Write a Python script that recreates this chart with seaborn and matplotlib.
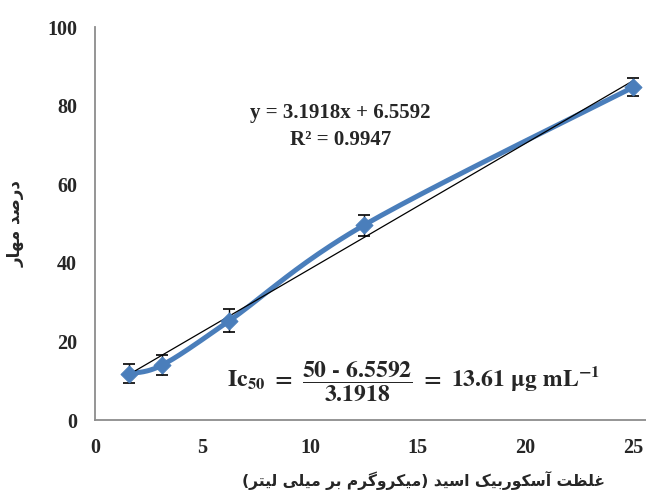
import numpy as np
import pandas as pd
import matplotlib
matplotlib.use('Agg')
import matplotlib.pyplot as plt
import seaborn as sns

# data
conc = [1.5625, 3.125, 6.25, 12.5, 25]
inhibition = [11.8, 14.0, 25.3, 49.6, 84.7]
err = [2.4, 2.5, 2.9, 2.7, 2.3]
slope = 3.1918
intercept = 6.5592
r2 = 0.9947
xticks = [0, 5, 10, 15, 20, 25]
yticks = [0, 20, 40, 60, 80, 100]

x_title = 'غلظت آسکوربیک اسید (میکروگرم بر میلی لیتر)'
y_title = 'درصد مهار'

# arabic presentation forms: isolated, final, initial, medial
FORMS = {
    'ا': ('\uFE8D', '\uFE8E', None, None),
    'آ': ('\uFE81', '\uFE82', None, None),
    'د': ('\uFEA9', '\uFEAA', None, None),
    'ر': ('\uFEAD', '\uFEAE', None, None),
    'و': ('\uFEED', '\uFEEE', None, None),
    'ص': ('\uFEB9', '\uFEBA', '\uFEBB', '\uFEBC'),
    'م': ('\uFEE1', '\uFEE2', '\uFEE3', '\uFEE4'),
    'ه': ('\uFEE9', '\uFEEA', '\uFEEB', '\uFEEC'),
    'غ': ('\uFECD', '\uFECE', '\uFECF', '\uFED0'),
    'ل': ('\uFEDD', '\uFEDE', '\uFEDF', '\uFEE0'),
    'ظ': ('\uFEC5', '\uFEC6', '\uFEC7', '\uFEC8'),
    'ت': ('\uFE95', '\uFE96', '\uFE97', '\uFE98'),
    'س': ('\uFEB1', '\uFEB2', '\uFEB3', '\uFEB4'),
    'ک': ('\uFB8E', '\uFB8F', '\uFB90', '\uFB91'),
    'ب': ('\uFE8F', '\uFE90', '\uFE91', '\uFE92'),
    'ی': ('\uFBFC', '\uFBFD', '\uFBFE', '\uFBFF'),
    'گ': ('\uFB92', '\uFB93', '\uFB94', '\uFB95'),
}


def shape(text):
    out = []
    for i, ch in enumerate(text):
        if ch not in FORMS:
            out.append(ch)
            continue
        prev = text[i - 1] if i > 0 else ''
        nxt = text[i + 1] if i + 1 < len(text) else ''
        join_prev = prev in FORMS and FORMS[prev][2] is not None
        join_next = nxt in FORMS and FORMS[ch][2] is not None
        iso, fin, ini, med = FORMS[ch]
        if join_prev and join_next:
            out.append(med)
        elif join_prev:
            out.append(fin)
        elif join_next:
            out.append(ini)
        else:
            out.append(iso)
    vis = ''.join(out)[::-1]
    return vis.translate(str.maketrans('()', ')('))


def smooth(xs, ys, n=40):
    # catmull-rom through the points, like excel's smoothed line
    xs = np.asarray(xs, float)
    ys = np.asarray(ys, float)
    px = np.concatenate([[xs[0]], xs, [xs[-1]]])
    py = np.concatenate([[ys[0]], ys, [ys[-1]]])
    cx, cy = [], []
    t = np.linspace(0, 1, n)
    for i in range(1, len(px) - 2):
        b0 = np.array([px[i], py[i]])
        b3 = np.array([px[i + 1], py[i + 1]])
        b1 = b0 + (np.array([px[i + 1], py[i + 1]]) - np.array([px[i - 1], py[i - 1]])) / 6
        b2 = b3 - (np.array([px[i + 2], py[i + 2]]) - b0) / 6
        pts = ((1 - t) ** 3)[:, None] * b0 + (3 * (1 - t) ** 2 * t)[:, None] * b1 \
            + (3 * (1 - t) * t ** 2)[:, None] * b2 + (t ** 3)[:, None] * b3
        cx.extend(pts[:, 0])
        cy.extend(pts[:, 1])
    return np.array(cx), np.array(cy)


sns.set_style('white')
plt.rcParams['font.family'] = ['Liberation Serif', 'DejaVu Sans']
plt.rcParams['font.weight'] = 'bold'
plt.rcParams['mathtext.fontset'] = 'stix'

df = pd.DataFrame({'conc': conc, 'inhibition': inhibition, 'err': err})
sx, sy = smooth(conc, inhibition)
curve = pd.DataFrame({'x': sx, 'y': sy})
xfit = np.array([conc[0], conc[-1]])
fit = pd.DataFrame({'x': xfit, 'y': slope * xfit + intercept})

fig = plt.figure(figsize=(6.46, 4.93), dpi=100)
ax = fig.add_axes([0.147, 0.148, 0.853, 0.797])

blue = '#4a7ebb'
sns.lineplot(data=curve, x='x', y='y', sort=False, color=blue, lw=3.6, ax=ax, zorder=2)
sns.lineplot(data=fit, x='x', y='y', color='black', lw=0.9, ax=ax, zorder=3)
ax.errorbar(df['conc'], df['inhibition'], yerr=df['err'], fmt='none', ecolor='black',
            elinewidth=1.0, capsize=4, capthick=1.2, zorder=4)
sns.scatterplot(data=df, x='conc', y='inhibition', marker='D', s=75, color=blue,
                edgecolor=blue, ax=ax, zorder=5)

ax.set_xlim(0, 25.6)
ax.set_ylim(0, 100)
ax.set_xticks(xticks)
ax.set_yticks(yticks)
ax.tick_params(length=0, labelsize=14.5)
ax.tick_params(axis='x', pad=13)
ax.tick_params(axis='y', pad=13)
for lab in ax.get_xticklabels() + ax.get_yticklabels():
    lab.set_fontweight('bold')
for s in ['top', 'right']:
    ax.spines[s].set_visible(False)
for s in ['left', 'bottom']:
    ax.spines[s].set_color('#8c8c8c')
    ax.spines[s].set_linewidth(1.3)

ax.set_xlabel(shape(x_title), family='DejaVu Sans', fontsize=11.2, fontweight='bold', va='center')
ax.xaxis.set_label_coords(0.597, -0.155)
ax.set_ylabel(shape(y_title), family='DejaVu Sans', fontsize=12, fontweight='bold', labelpad=16)

ax.text(11.4, 78.1, f'y = {slope}x + {intercept}', ha='center', va='center',
        fontsize=15, fontweight='bold')
ax.text(11.4, 71.3, f'R² = {r2}', ha='center', va='center', fontsize=15, fontweight='bold')

ic50 = (50 - intercept) / slope
ax.text(6.15, 10.0,
        r'$\mathbf{Ic}_{\mathbf{50}}\mathbf{\ =\ }\dfrac{\mathbf{50\ \text{-}\ 6.5592}}{\mathbf{3.1918}}'
        r'\mathbf{\ =\ %.2f\ }\mathbf{\mu g\ mL^{-1}}$' % ic50,
        ha='left', va='center', fontsize=17)

fig.savefig('out.png', dpi=100)
